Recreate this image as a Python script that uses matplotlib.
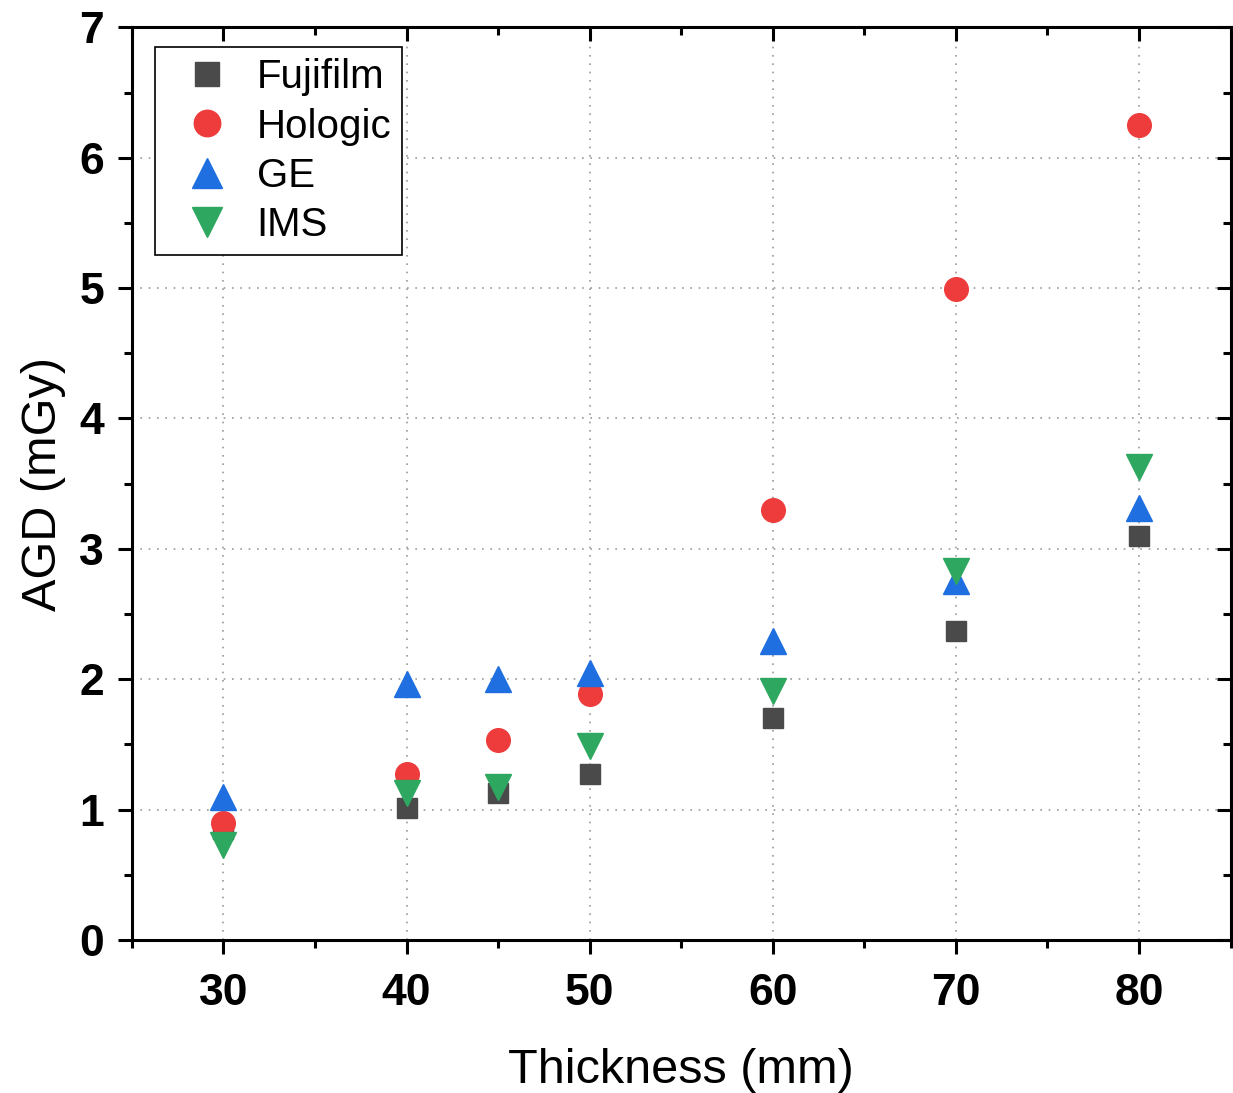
import numpy as np
import matplotlib.pyplot as plt
from matplotlib.ticker import MultipleLocator

plt.rcParams['font.family'] = ['Liberation Sans', 'DejaVu Sans']

thickness = [30, 40, 45, 50, 60, 70, 80]
fujifilm = [0.85, 1.01, 1.13, 1.27, 1.70, 2.37, 3.10]
hologic = [0.90, 1.27, 1.53, 1.89, 3.30, 4.99, 6.25]
ge = [1.10, 1.96, 2.00, 2.05, 2.29, 2.75, 3.31]
ims = [0.73, 1.13, 1.17, 1.49, 1.91, 2.83, 3.63]

fig = plt.figure(figsize=(12.33, 10.93), dpi=100)
ax = fig.add_axes([0.107, 0.14, 0.891, 0.835])

ax.plot(thickness, fujifilm, 's', color='#4a4a4a', ms=15, mec='#4a4a4a', label='Fujifilm')
ax.plot(thickness, hologic, 'o', color='#ee3b3b', ms=17, mec='#ee3b3b', label='Hologic')
ax.plot(thickness, ge, '^', color='#1f6fe0', ms=19, mec='#1f6fe0', label='GE')
ax.plot(thickness, ims, 'v', color='#2ea860', ms=19, mec='#2ea860', label='IMS')

ax.set_xlim(25, 85)
ax.set_ylim(0, 7)
ax.xaxis.set_major_locator(MultipleLocator(10))
ax.xaxis.set_minor_locator(MultipleLocator(5))
ax.yaxis.set_major_locator(MultipleLocator(1))
ax.yaxis.set_minor_locator(MultipleLocator(0.5))
ax.grid(True, which='major', linestyle=(0, (1, 4)), color='#999999', lw=1.2)

for s in ax.spines.values():
    s.set_linewidth(2.2)

ax.tick_params(which='major', direction='out', length=10, width=2.2)
ax.tick_params(which='minor', direction='out', length=6, width=2.2)
ax.tick_params(axis='both', labelsize=32)
ax.tick_params(axis='x', pad=14)
ax.tick_params(axis='y', pad=10)
# inward ticks on the top/right edges
ax.tick_params(which='both', top=True, right=True)
for t in ax.xaxis.get_major_ticks() + ax.xaxis.get_minor_ticks():
    t.tick2line.set_marker(3)
for t in ax.yaxis.get_major_ticks() + ax.yaxis.get_minor_ticks():
    t.tick2line.set_marker(0)
for lab in ax.get_xticklabels() + ax.get_yticklabels():
    lab.set_fontweight('bold')

ax.set_xlabel('Thickness (mm)', fontsize=35, labelpad=24)
ax.set_ylabel('AGD (mGy)', fontsize=35, labelpad=10)

leg = ax.legend(loc='upper left', bbox_to_anchor=(0.021, 0.978), borderaxespad=0,
                fontsize=29, fancybox=False, framealpha=1, edgecolor='black',
                handletextpad=0.2, borderpad=0.27, labelspacing=0.28,
                handlelength=2.05, markerscale=1.12)
leg.get_frame().set_linewidth(1.2)

fig.savefig('out.png', dpi=100)
